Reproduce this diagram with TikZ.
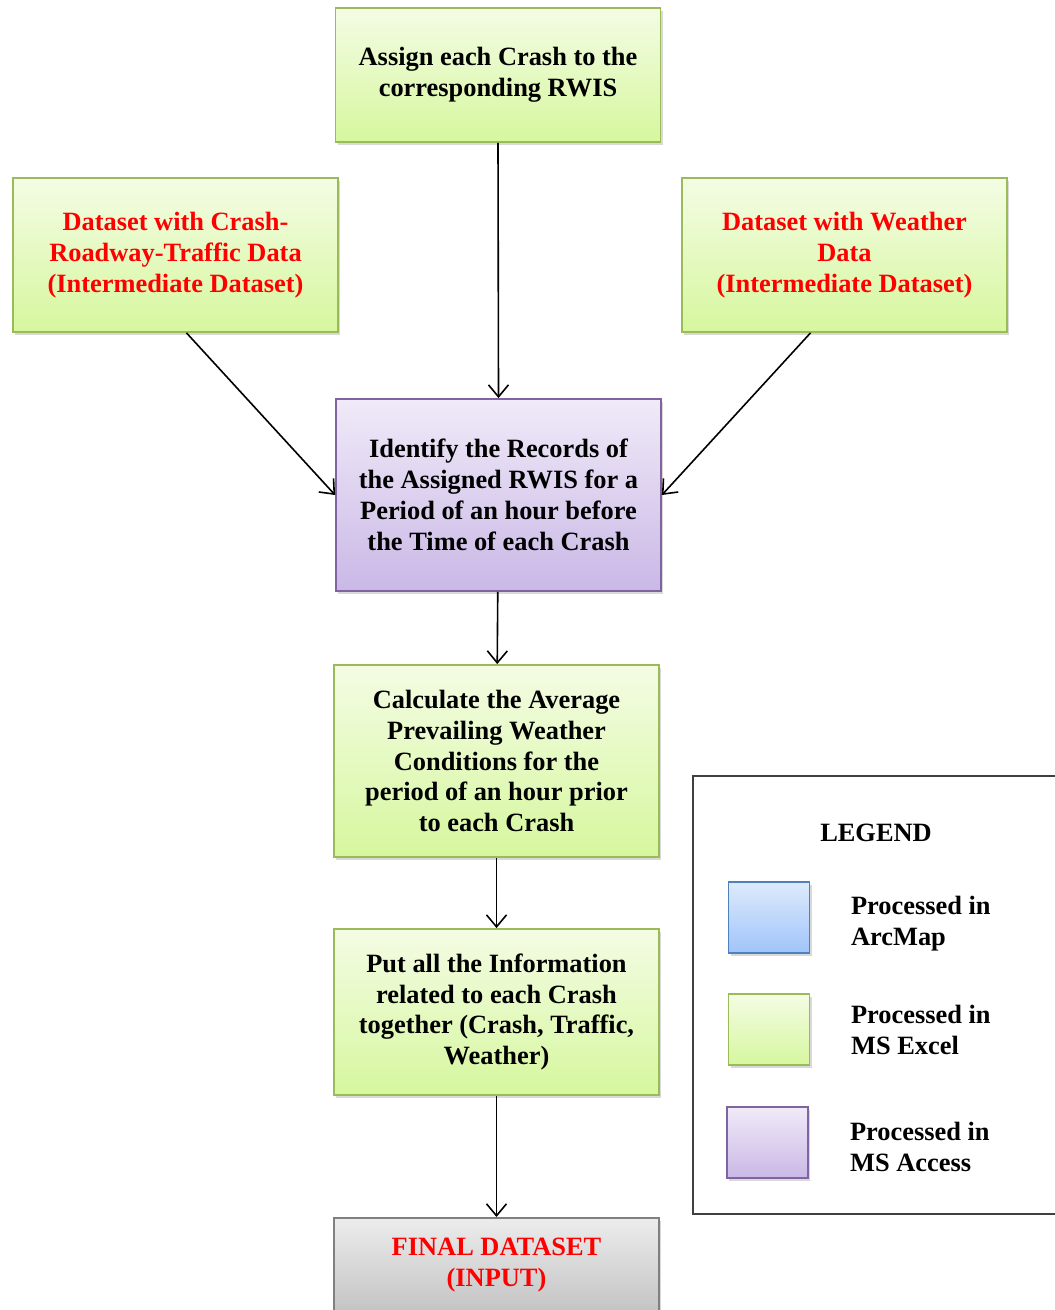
\documentclass[tikz,border=0pt]{standalone}
\usepackage{fontspec}
\setmainfont{Liberation Serif}
\usetikzlibrary{arrows.meta,shadows}

\definecolor{excelline}{RGB}{155,187,89}
\definecolor{exceltop}{RGB}{244,252,228}
\definecolor{excelbot}{RGB}{214,247,158}
\definecolor{accessline}{RGB}{128,100,162}
\definecolor{accesstop}{RGB}{240,234,248}
\definecolor{accessbot}{RGB}{202,184,230}
\definecolor{arcline}{RGB}{79,129,189}
\definecolor{arctop}{RGB}{222,234,252}
\definecolor{arcbot}{RGB}{160,196,250}
\definecolor{finalline}{RGB}{128,128,128}
\definecolor{finaltop}{RGB}{236,236,236}
\definecolor{finalbot}{RGB}{196,196,196}

\begin{document}
\begin{tikzpicture}[x=0.5pt, y=-0.5pt,
    txt/.style={font=\fontsize{13.2}{15.4}\selectfont\bfseries},
    box/.style={txt, draw, line width=0.9pt, minimum width=162.5pt, align=center,
        drop shadow={opacity=0.3, shadow xshift=1pt, shadow yshift=-1.5pt}},
    excel/.style={box, draw=excelline, top color=exceltop, bottom color=excelbot},
    access/.style={box, draw=accessline, top color=accesstop, bottom color=accessbot},
    arcmap/.style={box, draw=arcline, top color=arctop, bottom color=arcbot},
    final/.style={box, draw=finalline, top color=finaltop, bottom color=finalbot},
    swatch/.style={minimum width=40.5pt, minimum height=35.5pt},
    flow/.style={-{Straight Barb[length=6pt, width=10pt]}, line width=0.8pt}]

    \useasboundingbox (0, 0) rectangle (1054, 1310);

    \node [excel, minimum height=67pt] (assign) at (498, 75)
        {Assign each Crash to the\\corresponding RWIS};
    \node [excel, minimum height=77pt, text=red] (crashdata) at (175.5, 255)
        {Dataset with Crash-\\Roadway-Traffic Data\\(Intermediate Dataset)};
    \node [excel, minimum height=77pt, text=red] (weatherdata) at (844.5, 255)
        {Dataset with Weather\\Data\\(Intermediate Dataset)};
    \node [access, minimum height=96pt] (identify) at (498.5, 495)
        {Identify the Records of\\the Assigned RWIS for a\\Period of an hour before\\the Time of each Crash};
    \node [excel, minimum height=96pt] (average) at (496.5, 761)
        {Calculate the Average\\Prevailing Weather\\Conditions for the\\period of an hour prior\\to each Crash};
    \node [excel, minimum height=83pt] (together) at (496.5, 1012)
        {Put all the Information\\related to each Crash\\together (Crash, Traffic,\\Weather)};
    \node [final, anchor=north, text=red, inner ysep=10pt] (finalset) at (496.5, 1217)
        {FINAL DATASET\\(INPUT)};

    \draw [flow] (assign.south) -- (identify.north);
    \draw [flow] ([xshift=5.5pt]crashdata.south) -- (identify.west);
    \draw [flow] ([xshift=-17pt]weatherdata.south) -- (identify.east);
    \draw [flow] (identify) -- (average);
    \draw [flow] (average) -- (together);
    \draw [flow] (together) -- (finalset);

    % legend
    \draw [black!75, line width=0.6pt] (1080, 776) -- (693, 776) -- (693, 1214) -- (1080, 1214);
    \node [txt] (legendtitle) at (876, 833) {LEGEND};

    \node [arcmap, swatch] (arcbox) at (769, 917.5) {};
    \node [excel, swatch] (excelbox) at (769, 1029.5) {};
    \node [access, swatch] (accessbox) at (767.5, 1142.5) {};

    \node [txt, anchor=west, align=left] (arctext) at (844, 924) {Processed in\\ArcMap};
    \node [txt, anchor=west, align=left] (exceltext) at (844, 1030) {Processed in\\MS Excel};
    \node [txt, anchor=west, align=left] (accesstext) at (843, 1147) {Processed in\\MS Access};
\end{tikzpicture}
\end{document}
